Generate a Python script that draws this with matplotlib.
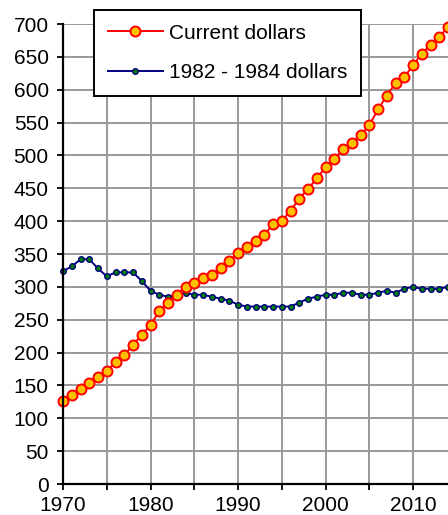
import numpy as np
import matplotlib.pyplot as plt
from matplotlib.ticker import MultipleLocator

plt.rcParams['font.family'] = ['Liberation Sans', 'DejaVu Sans']

# years
years = list(range(1970, 2015))

# average weekly earnings, current dollars
current = [126, 136, 145, 154, 163, 172, 185, 196, 212, 227,
           242, 263, 276, 288, 300, 306, 313, 318, 328, 339,
           352, 361, 370, 379, 395, 400, 416, 434, 449, 465,
           482, 494, 510, 519, 531, 546, 570, 591, 610, 619,
           637, 655, 668, 680, 696]

# same in 1982 - 1984 dollars
constant = [324, 331, 342, 342, 328, 316, 322, 322, 322, 309,
            294, 288, 285, 288, 291, 288, 288, 285, 282, 279,
            273, 270, 270, 270, 270, 270, 270, 276, 282, 285,
            288, 288, 291, 291, 288, 288, 291, 294, 291, 297,
            300, 297, 297, 297, 300]

fig = plt.figure(figsize=(4.48, 5.15), dpi=100)
ax = fig.add_axes([63 / 448, 1 - 484 / 515, 1 - 63 / 448, 460 / 515])

ax.plot(years, current, color='red', lw=1.4, marker='o', ms=7.2,
        mfc='#FFC000', mec='red', mew=1.4, label='Current dollars',
        clip_on=False, zorder=4)
ax.plot(years, constant, color='#000080', lw=1.4, marker='o', ms=4,
        mfc='#008000', mec='#000080', mew=1.0, label='1982 - 1984 dollars',
        clip_on=False, zorder=3)

ax.set_xlim(1970, 2014.0)
ax.set_ylim(0, 700)
ax.set_xticks(range(1970, 2015, 5))
ax.set_xticklabels([str(y) if y % 10 == 0 else '' for y in range(1970, 2015, 5)])
ax.yaxis.set_major_locator(MultipleLocator(50))

ax.grid(True, color='#999999', lw=1.4)
ax.set_axisbelow(True)
for s in ['top', 'right']:
    ax.spines[s].set_visible(False)
for s in ['left', 'bottom']:
    ax.spines[s].set_linewidth(1.6)
    ax.spines[s].set_zorder(5)
ax.tick_params(labelsize=15, length=4.3, width=1.3, direction='out')
ax.tick_params(axis='x', pad=4.5)
ax.tick_params(axis='y', pad=6)

leg = ax.legend(loc='upper left', bbox_to_anchor=(94 / 448, 1 - 10 / 515),
                bbox_transform=fig.transFigure, fontsize=15, fancybox=False,
                framealpha=1, edgecolor='black', handlelength=2.65,
                labelspacing=1.0, borderpad=0.65, handletextpad=0.3,
                borderaxespad=0)
leg.get_frame().set_linewidth(1.4)
leg.set_zorder(10)

plt.savefig('out.png')
